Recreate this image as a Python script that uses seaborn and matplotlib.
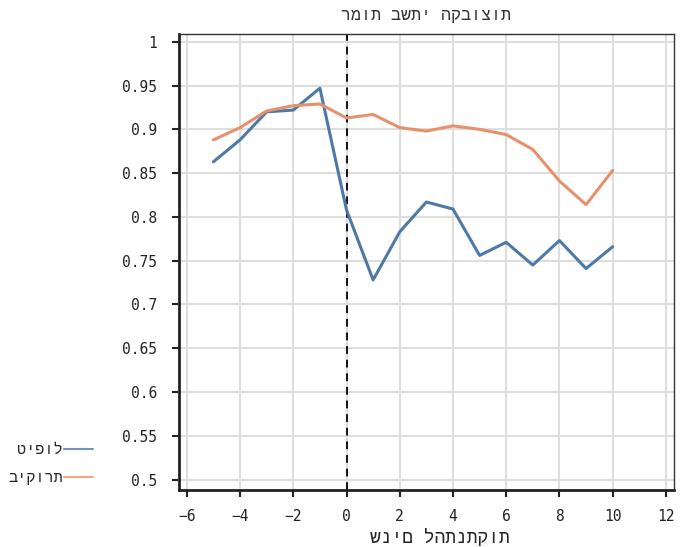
import matplotlib
matplotlib.use("Agg")
import matplotlib.pyplot as plt
import seaborn as sns
import pandas as pd

years = [-5, -4, -3, -2, -1, 0, 1, 2, 3, 4, 5, 6, 7, 8, 9, 10]
treatment = [0.863, 0.888, 0.920, 0.922, 0.947, 0.808, 0.728, 0.783, 0.817, 0.809,
             0.756, 0.771, 0.745, 0.773, 0.741, 0.766]
control = [0.888, 0.902, 0.921, 0.927, 0.929, 0.913, 0.917, 0.902, 0.898, 0.904,
           0.900, 0.894, 0.877, 0.841, 0.814, 0.853]
group_names = ["טיפול", "ביקורת"]
title = "רמות בשתי הקבוצות"
xlabel = "שנים להתנתקות"
xticks = [-6, -4, -2, 0, 2, 4, 6, 8, 10, 12]
yticks = [0.5, 0.55, 0.6, 0.65, 0.7, 0.75, 0.8, 0.85, 0.9, 0.95, 1.0]

df = pd.DataFrame({
    "year": years * 2,
    "value": treatment + control,
    "group": [group_names[0]] * len(years) + [group_names[1]] * len(years),
})

sns.set_theme(style="white")
plt.rcParams["font.family"] = ["DejaVu Sans Mono", "DejaVu Sans"]
heb = ["Liberation Mono", "DejaVu Sans Mono", "DejaVu Sans"]

fig = plt.figure(figsize=(6.8, 5.47), dpi=100)
ax = fig.add_axes([0.263, 0.105, 0.728, 0.833])

palette = {group_names[0]: "#4e79a7", group_names[1]: "#e6916b"}
sns.lineplot(data=df, x="year", y="value", hue="group", palette=palette,
             linewidth=2.2, ax=ax, legend=True)

ax.axvline(0, color="#111111", linestyle=(0, (4, 3)), linewidth=1.4, zorder=1)

ax.set_xlim(-6.3, 12.3)
ax.set_ylim(0.4886, 1.009)
ax.set_xticks(xticks)
ax.set_xticklabels([str(t).replace("-", "\u2212") for t in xticks])
ax.set_yticks(yticks)
ax.set_yticklabels(["0.5", "0.55", "0.6", "0.65", "0.7", "0.75", "0.8",
                    "0.85", "0.9", "0.95", "1"])
ax.grid(True, color="#dedede", linewidth=1.5)
ax.set_axisbelow(True)

for side in ["left", "bottom"]:
    ax.spines[side].set_color("#222222")
    ax.spines[side].set_linewidth(2.0)
for side in ["top", "right"]:
    ax.spines[side].set_color("#333333")
    ax.spines[side].set_linewidth(1.0)

ax.tick_params(axis="both", which="major", direction="out", length=5, width=1.5,
               color="#222222", labelsize=10.5, labelcolor="#222222",
               bottom=True, left=True)
ax.tick_params(axis="y", pad=10.5)
ax.tick_params(axis="x", pad=9)

ax.set_title(title, fontsize=12, color="#333333", pad=10, family=heb)
ax.set_xlabel(xlabel, fontsize=13, color="#222222", labelpad=4, family=heb)
ax.xaxis.set_label_coords(0.528, -0.087)
ax.set_ylabel("")

handles, labels = ax.get_legend_handles_labels()
leg = ax.legend(handles, labels, loc="lower right", bbox_to_anchor=(-0.145, -0.02),
                frameon=False, markerfirst=False, handlelength=1.9,
                handletextpad=0.1, labelspacing=0.9,
                prop={"family": heb, "size": 11})
for line in leg.get_lines():
    line.set_alpha(0.8)
    line.set_linewidth(1.5)

fig.savefig("out.png", dpi=100, facecolor="white")
